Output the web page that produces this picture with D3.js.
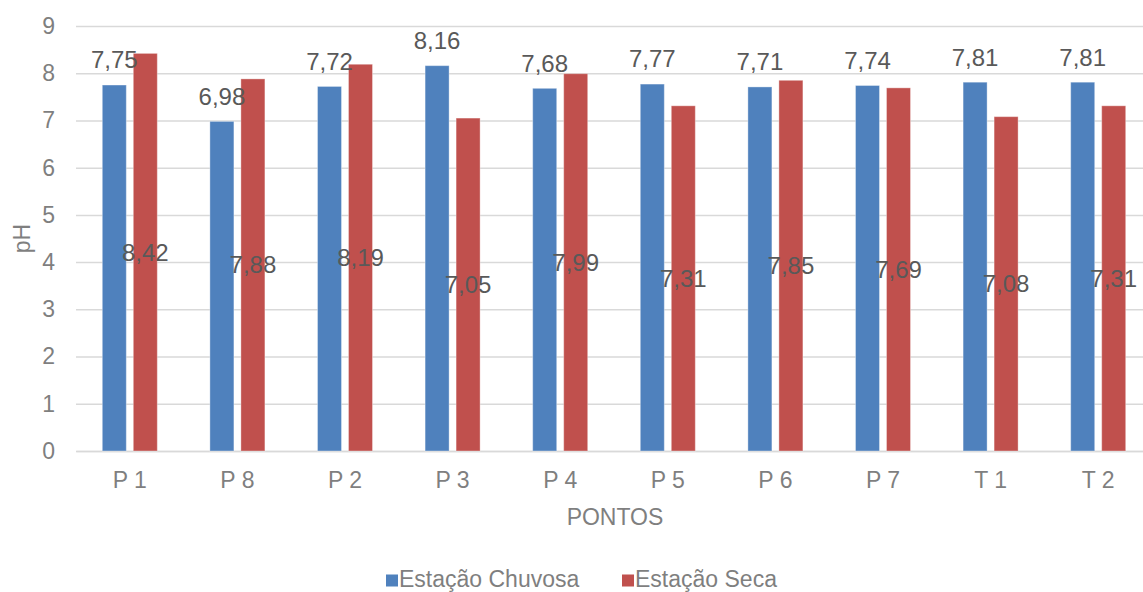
<!DOCTYPE html>
<html>
<head>
<meta charset="utf-8">
<script src="https://cdn.jsdelivr.net/npm/d3@7"></script>
<style>
  html, body { margin: 0; padding: 0; background: #fff; }
  svg { display: block; font-family: "Liberation Sans", Arial, sans-serif; }
</style>
</head>
<body>
<svg id="chart" width="1143" height="592"></svg>
<script>
// pH por ponto de coleta, estação chuvosa x estação seca
const pontos = ["P 1", "P 8", "P 2", "P 3", "P 4", "P 5", "P 6", "P 7", "T 1", "T 2"];
const series = ["Estação Chuvosa", "Estação Seca"];
const chuvosa = [7.75, 6.98, 7.72, 8.16, 7.68, 7.77, 7.71, 7.74, 7.81, 7.81];
const seca = [8.42, 7.88, 8.19, 7.05, 7.99, 7.31, 7.85, 7.69, 7.08, 7.31];
const yTicks = [0, 1, 2, 3, 4, 5, 6, 7, 8, 9];
const colors = ["#4F81BD", "#C0504D"];

const svg = d3.select("#chart");
const axisColor = "#7F7F7F";
const labelColor = "#595959";
const gridColor = "#D9D9D9";
const fontFamily = "Liberation Sans, Arial, sans-serif";

const plot = { left: 76, right: 1152, top: 26, bottom: 451 };

const x0 = d3.scaleBand().domain(pontos).range([plot.left, plot.right]).padding(0);
const pairWidth = 55;
const x1 = d3.scaleBand().domain(series).range([-pairWidth / 2, pairWidth / 2])
  .paddingInner(7 / 31).paddingOuter(0);
const y = d3.scaleLinear().domain([0, 9]).range([plot.bottom, plot.top]);

const locale = d3.formatLocale({ decimal: ",", thousands: ".", grouping: [3], currency: ["R$", ""] });
const fmt = locale.format(".2f");

// horizontal gridlines and value axis
const yAxis = d3.axisLeft(y).tickValues(yTicks).tickSize(-(plot.right - plot.left))
  .tickPadding(21).tickFormat(d3.format("d"));
const gy = svg.append("g").attr("transform", `translate(${plot.left},0)`).call(yAxis);
gy.select(".domain").remove();
gy.selectAll(".tick line").attr("stroke", gridColor).attr("stroke-width", 1.5);
gy.selectAll(".tick text").attr("fill", axisColor).attr("font-size", 23)
  .attr("font-family", fontFamily);

// category axis
const xAxis = d3.axisBottom(x0).tickSize(0).tickPadding(21);
const gx = svg.append("g").attr("transform", `translate(0,${plot.bottom})`).call(xAxis);
gx.select(".domain").attr("stroke", gridColor).attr("stroke-width", 1.5);
gx.selectAll(".tick text").attr("fill", axisColor).attr("font-size", 23)
  .attr("font-family", fontFamily);

const rows = pontos.map((p, i) => ({ p, vals: [chuvosa[i], seca[i]] }));

const groups = svg.append("g").selectAll("g").data(rows).join("g")
  .attr("transform", d => `translate(${x0(d.p) + x0.bandwidth() / 2},0)`);

groups.selectAll("rect").data(d => d.vals.map((v, k) => ({ v, k })))
  .join("rect")
  .attr("x", d => x1(series[d.k]))
  .attr("width", x1.bandwidth())
  .attr("y", d => y(d.v))
  .attr("height", d => y(0) - y(d.v))
  .attr("fill", d => colors[d.k])
  .attr("stroke", "#ffffff")
  .attr("stroke-opacity", 0.35)
  .attr("stroke-width", 1);

// value labels: rainy season above the bar, dry season centred in the bar
groups.append("text")
  .attr("x", x1(series[0]) + x1.bandwidth() / 2)
  .attr("y", d => y(d.vals[0]) - 25)
  .attr("dy", "0.35em")
  .attr("text-anchor", "middle")
  .attr("fill", labelColor)
  .attr("font-size", 24)
  .text(d => fmt(d.vals[0]));

groups.append("text")
  .attr("x", x1(series[1]) + x1.bandwidth() / 2)
  .attr("y", d => y(d.vals[1] / 2))
  .attr("dy", "0.35em")
  .attr("text-anchor", "middle")
  .attr("fill", labelColor)
  .attr("font-size", 24)
  .text(d => fmt(d.vals[1]));

// axis titles
svg.append("text")
  .attr("x", 615)
  .attr("y", 517).attr("dy", "0.35em")
  .attr("text-anchor", "middle").attr("fill", axisColor).attr("font-size", 23)
  .text("PONTOS");

svg.append("text")
  .attr("transform", `translate(22,${(plot.top + plot.bottom) / 2}) rotate(-90)`)
  .attr("dy", "0.35em")
  .attr("text-anchor", "middle").attr("fill", axisColor).attr("font-size", 23)
  .text("pH");

// legend
const legendItems = [{ name: series[0], x: 386 }, { name: series[1], x: 622 }];
const lg = svg.append("g").selectAll("g").data(legendItems).join("g")
  .attr("transform", (d) => `translate(${d.x},0)`);
lg.append("rect").attr("x", 0).attr("y", 574.5).attr("width", 12).attr("height", 12)
  .attr("fill", (d, i) => colors[i]);
lg.append("text").attr("x", 13).attr("y", 586.5)
  .attr("fill", axisColor).attr("font-size", 23)
  .text(d => d.name);
</script>
</body>
</html>
